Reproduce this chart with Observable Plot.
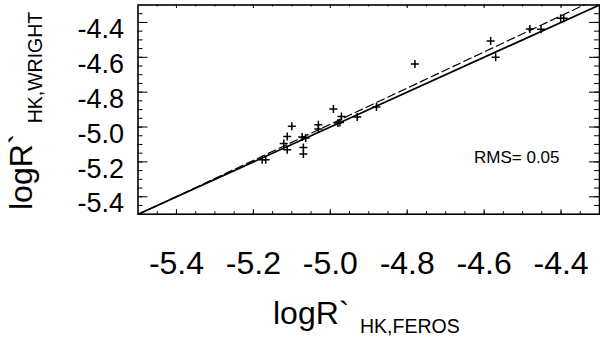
<!DOCTYPE html>
<html>
<head>
<meta charset="utf-8">
<script src="https://cdn.jsdelivr.net/npm/d3@7"></script>
<script src="https://cdn.jsdelivr.net/npm/@observablehq/plot@0.6"></script>
<style>
  html, body { margin: 0; padding: 0; background: #fff; }
  svg { display: block; }
</style>
</head>
<body>
<div id="chart"></div>
<script>
// ---- data ----
const logRFeros = [-5.177, -5.168, -5.121, -5.112, -5.112, -5.100, -5.073, -5.064, -5.070, -5.070,
                   -5.031, -5.031, -4.992, -4.975, -4.971, -4.980, -4.930, -4.880, -4.780,
                   -4.583, -4.570, -4.481, -4.452, -4.401, -4.393];
const logRWright = [-5.187, -5.187, -5.095, -5.054, -5.130, -4.996, -5.057, -5.063, -5.117, -5.154,
                    -4.987, -5.011, -4.897, -4.974, -4.939, -4.977, -4.943, -4.885, -4.638,
                    -4.506, -4.599, -4.437, -4.439, -4.376, -4.376];
const axisDomain = [-5.5, -4.3];
const majorTicks = [-5.4, -5.2, -5.0, -4.8, -4.6, -4.4];
const minorTicks = [-5.45, -5.4, -5.35, -5.3, -5.25, -5.2, -5.15, -5.1, -5.05, -5.0, -4.95, -4.9,
                    -4.85, -4.8, -4.75, -4.7, -4.65, -4.6, -4.55, -4.5, -4.45, -4.4, -4.35];
const fitSlope = 1.037;
const fitIntercept = 0.201;
const rmsLabel = "RMS= 0.05";

const points = logRFeros.map((x, i) => ({x, y: logRWright[i]}));
const fitLine = axisDomain.map(x => ({x, y: fitSlope * x + fitIntercept}));

// ---- layout ----
const W = 600, H = 339;
const mL = 137.5, mT = 4.5, mR = 1, mB = 125.3;
const fw = W - mL - mR, fh = H - mT - mB;

const plusSymbol = {
  draw(ctx, size) {
    const r = Math.sqrt(size / Math.PI);
    ctx.moveTo(-r, 0); ctx.lineTo(r, 0);
    ctx.moveTo(0, -r); ctx.lineTo(0, r);
  }
};

const svg = Plot.plot({
  width: W, height: H,
  marginLeft: mL, marginTop: mT, marginRight: mR, marginBottom: mB,
  style: {fontFamily: "'Liberation Sans', Arial, Helvetica, sans-serif", background: "#fff", color: "#000"},
  x: {domain: axisDomain},
  y: {domain: axisDomain},
  marks: [
    // inward ticks, all four sides
    Plot.tickX(minorTicks, {x: d => d, insetTop: fh - 2.5, stroke: "#000"}),
    Plot.tickX(majorTicks, {x: d => d, insetTop: fh - 4.5, stroke: "#000"}),
    Plot.tickX(minorTicks, {x: d => d, insetBottom: fh - 2, stroke: "#000"}),
    Plot.tickX(majorTicks, {x: d => d, insetBottom: fh - 3.5, stroke: "#000"}),
    Plot.tickY(minorTicks, {y: d => d, insetRight: fw - 5, stroke: "#000"}),
    Plot.tickY(majorTicks, {y: d => d, insetRight: fw - 10, stroke: "#000"}),
    Plot.tickY(minorTicks, {y: d => d, insetLeft: fw - 5, stroke: "#000"}),
    Plot.tickY(majorTicks, {y: d => d, insetLeft: fw - 10, stroke: "#000"}),
    // one-to-one line and fit
    Plot.link([axisDomain], {x1: d => d[0], y1: d => d[0], x2: d => d[1], y2: d => d[1],
      stroke: "#000", strokeWidth: 1.8}),
    Plot.line(fitLine, {x: "x", y: "y", stroke: "#000", strokeWidth: 1.2,
      strokeDasharray: "8,4", clip: true}),
    Plot.dot(points, {x: "x", y: "y", symbol: plusSymbol, r: 4, stroke: "#000",
      strokeWidth: 1.5, fill: "none"}),
    Plot.text([rmsLabel], {frameAnchor: "bottom-right", textAnchor: "start", lineAnchor: "bottom",
      dx: -125.5, dy: -51, fontSize: 17, fill: "#000"}),
    Plot.frame({stroke: "#000", strokeWidth: 1.6}),
    Plot.axisX(majorTicks, {tickSize: 0, tickPadding: 37, fontSize: 32,
      tickFormat: d => d.toFixed(1), label: null, fill: "#000"}),
    Plot.axisY(majorTicks, {tickSize: 0, tickPadding: 14, fontSize: 27, dy: 7,
      tickFormat: d => d.toFixed(1), label: null, fill: "#000"})
  ]
});

// axis titles with subscripts
const s = d3.select(svg);
const xt = s.append("text").attr("x", 273).attr("y", 324).attr("text-anchor", "start")
  .attr("font-size", 32).attr("fill", "#000");
xt.append("tspan").text("logR`");
xt.append("tspan").attr("x", 360).attr("y", 333.3).attr("font-size", 19.5).text("HK,FEROS");

const yt = s.append("text").attr("transform", "translate(32,210) rotate(-90)").attr("text-anchor", "start")
  .attr("font-size", 32).attr("fill", "#000");
yt.append("tspan").attr("x", 0).attr("y", 0).text("logR`");
yt.append("tspan").attr("x", 86.7).attr("y", 9.7).attr("font-size", 19.5).text("HK,WRIGHT");

document.getElementById("chart").appendChild(svg);
</script>
</body>
</html>
